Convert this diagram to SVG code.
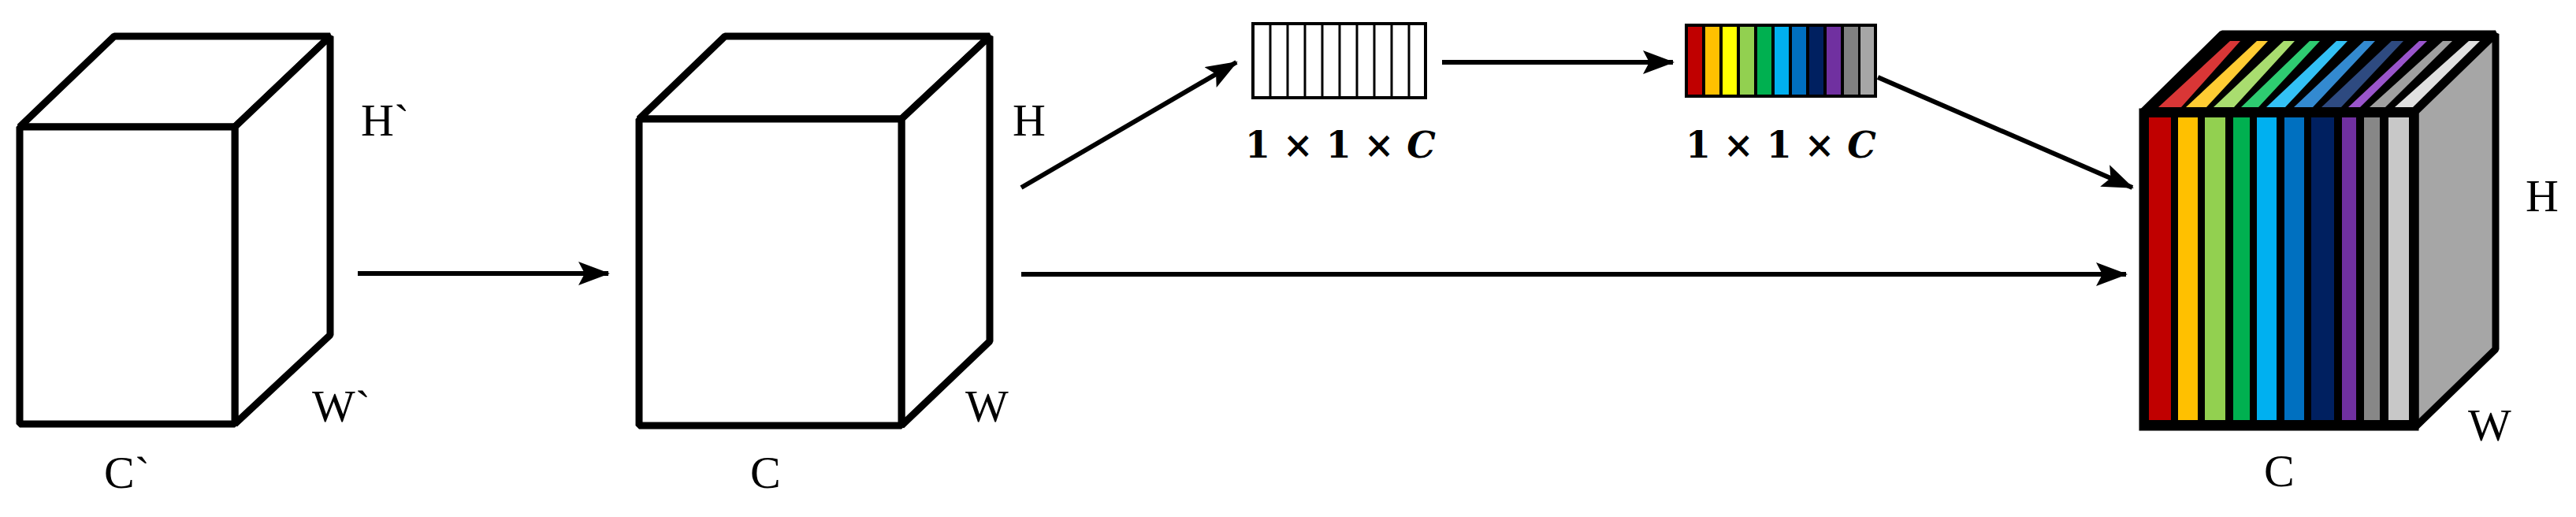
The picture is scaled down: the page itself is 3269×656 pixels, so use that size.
<svg xmlns="http://www.w3.org/2000/svg" width="3269" height="656" viewBox="0 0 3269 656">
<style>
.cube{fill:#fff;stroke:#000;stroke-width:9;stroke-linejoin:bevel}
.lbl{font-family:"Liberation Serif",serif;font-size:58px;fill:#000}
.dim{font-family:"DejaVu Serif",serif;font-size:46px;font-weight:bold;fill:#000}
.con{stroke:#000;stroke-width:6;fill:none;marker-end:url(#ah)}
</style>
<defs>
<marker id="ah" markerUnits="userSpaceOnUse" markerWidth="40" markerHeight="30" refX="38" refY="15" orient="auto">
<path d="M0,0 L40,15 L0,30 L8,15 Z" fill="#000"/>
</marker>
</defs>
<rect width="3269" height="656" fill="#fff"/>
<g id="cube1">
<polygon class="cube" points="25,161 145,46 419,46 298,161"/>
<polygon class="cube" points="298,161 419,46 419,425 298,538"/>
<rect class="cube" x="25" y="161" width="273" height="377"/>
<text class="lbl" x="458" y="172">H`</text>
<text class="lbl" x="396" y="535">W`</text>
<text class="lbl" x="132" y="619">C`</text>
</g>
<g id="cube2">
<polygon class="cube" points="811,151 920,46 1256,46 1144,151"/>
<polygon class="cube" points="1144,151 1256,46 1256,433 1144,540"/>
<rect class="cube" x="811" y="151" width="333" height="389"/>
<text class="lbl" x="1285" y="172">H</text>
<text class="lbl" x="1225" y="535">W</text>
<text class="lbl" x="952" y="619">C</text>
</g>
<g id="vec1">
<rect x="1590" y="30" width="219" height="94" fill="#fff" stroke="#000" stroke-width="4"/>
<g stroke="#000" stroke-width="3">
<line x1="1612" y1="30" x2="1612" y2="124"/><line x1="1634" y1="30" x2="1634" y2="124"/><line x1="1656" y1="30" x2="1656" y2="124"/><line x1="1678" y1="30" x2="1678" y2="124"/><line x1="1700" y1="30" x2="1700" y2="124"/><line x1="1722" y1="30" x2="1722" y2="124"/><line x1="1744" y1="30" x2="1744" y2="124"/><line x1="1766" y1="30" x2="1766" y2="124"/><line x1="1788" y1="30" x2="1788" y2="124"/>
</g>
<text class="dim" x="1701" y="200" text-anchor="middle">1 × 1 × <tspan font-style="italic">C</tspan></text>
</g>
<g id="vec2">
<rect x="2138" y="30" width="244" height="94" fill="#000"/>
<rect x="2142" y="34" width="18" height="86" fill="#c00000"/>
<rect x="2164" y="34" width="18" height="86" fill="#ffc000"/>
<rect x="2186" y="34" width="18" height="86" fill="#ffff00"/>
<rect x="2208" y="34" width="18" height="86" fill="#92d050"/>
<rect x="2230" y="34" width="18" height="86" fill="#00b050"/>
<rect x="2252" y="34" width="18" height="86" fill="#00b0f0"/>
<rect x="2274" y="34" width="18" height="86" fill="#0070c0"/>
<rect x="2296" y="34" width="18" height="86" fill="#002060"/>
<rect x="2318" y="34" width="18" height="86" fill="#7030a0"/>
<rect x="2340" y="34" width="18" height="86" fill="#808080"/>
<rect x="2361" y="34" width="17" height="86" fill="#a6a6a6"/>
<text class="dim" x="2260" y="200" text-anchor="middle">1 × 1 × <tspan font-style="italic">C</tspan></text>
</g>
<g id="cube3">
<polygon points="2719,142 2820,43 3167,43 3065,142" fill="#000" stroke="#000" stroke-width="9" stroke-linejoin="bevel"/>
<polygon points="3065,142 3167,43 3167,443 3065,542" fill="#a6a6a6" stroke="#000" stroke-width="9" stroke-linejoin="bevel"/>
<rect x="2719" y="142" width="346" height="400" fill="#000" stroke="#000" stroke-width="9"/>
<g>
<polygon points="2739,136 2768,136 2843,52 2830,52" fill="#d93636"/>
<polygon points="2774,136 2800,136 2878,52 2864,52" fill="#ffcc33"/>
<polygon points="2809,136 2835,136 2912,52 2898,52" fill="#a9dd6f"/>
<polygon points="2844,136 2866,136 2944,52 2931,52" fill="#2ecc71"/>
<polygon points="2876,136 2900,136 2979,52 2965,52" fill="#33c1f5"/>
<polygon points="2911,136 2935,136 3014,52 3000,52" fill="#338ad0"/>
<polygon points="2946,136 2971,136 3050,52 3035,52" fill="#2e4a80"/>
<polygon points="2980,136 2995,136 3080,52 3070,52" fill="#9a55cc"/>
<polygon points="3007,136 3027,136 3112,52 3100,52" fill="#a0a0a0"/>
<polygon points="3039,136 3062,136 3147,52 3133,52" fill="#e0e0e0"/>
</g>
<rect x="2727" y="149" width="28" height="384" fill="#c00000"/>
<rect x="2764" y="149" width="25" height="384" fill="#ffc000"/>
<rect x="2798" y="149" width="26" height="384" fill="#92d050"/>
<rect x="2834" y="149" width="21" height="384" fill="#00b050"/>
<rect x="2864" y="149" width="25" height="384" fill="#00b0f0"/>
<rect x="2899" y="149" width="25" height="384" fill="#0070c0"/>
<rect x="2933" y="149" width="29" height="384" fill="#002060"/>
<rect x="2972" y="149" width="18" height="384" fill="#7030a0"/>
<rect x="3000" y="149" width="20" height="384" fill="#878787"/>
<rect x="3031" y="149" width="26" height="384" fill="#c8c8c8"/>
<text class="lbl" x="3205" y="268">H</text>
<text class="lbl" x="3132" y="559">W</text>
<text class="lbl" x="2873" y="617">C</text>
</g>
<g id="connectors">
<line class="con" x1="454" y1="347" x2="772" y2="347"/>
<line class="con" x1="1296" y1="238" x2="1569" y2="79"/>
<line class="con" x1="1830" y1="79" x2="2123" y2="79"/>
<line class="con" x1="2383" y1="98" x2="2706" y2="238"/>
<line class="con" x1="1296" y1="348" x2="2698" y2="348"/>
</g>
</svg>
